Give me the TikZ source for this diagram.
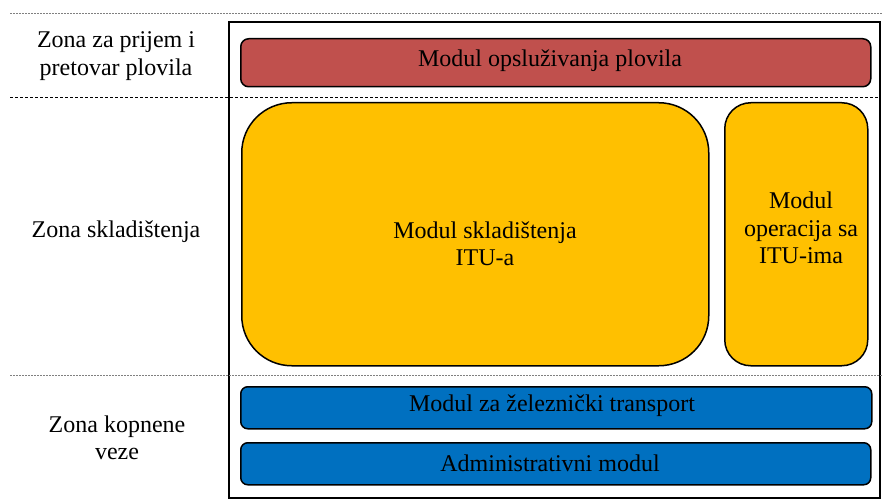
\documentclass[tikz,border=0pt]{standalone}
\usepackage{fontspec}
\setmainfont{Liberation Serif}
\definecolor{modred}{HTML}{C0504D}
\definecolor{modyellow}{HTML}{FFC000}
\definecolor{modblue}{HTML}{0070C0}
\begin{document}
\begin{tikzpicture}[x=1pt,y=-1pt,
  modbox/.style={draw=black, line width=1.5pt, inner sep=0pt, anchor=north west},
  modtext/.style={align=center, font=\fontsize{24}{27.5}\selectfont, inner sep=0pt},
  zonetext/.style={align=center, font=\fontsize{24}{27.5}\selectfont},
  sepdot/.style={draw=gray, line width=1pt, dash pattern=on 1.5pt off 1.5pt},
  sepdash/.style={draw=black, line width=0.8pt, dash pattern=on 3pt off 2pt}]
\useasboundingbox (0,0) rectangle (882,502);
% outer frame
\node[draw=black, line width=1.8pt, minimum width=651pt, minimum height=476pt, inner sep=0pt, anchor=north west] (frame) at (228,21) {};
% separators
\coordinate (s1l) at (10,14); \coordinate (s1r) at (882,14);
\coordinate (s2l) at (10,97); \coordinate (s2r) at (880,97);
\coordinate (s3l) at (10,375); \coordinate (s3r) at (882,375);
\draw[sepdot] (s1l) -- (s1r);
\draw[sepdash] (s2l) -- (s2r);
\draw[sepdot] (s3l) -- (s3r);
% modules
\node[modbox, fill=modred, rounded corners=8pt, minimum width=630pt, minimum height=48pt] (red) at (240,38) {};
\node[modbox, fill=modyellow, rounded corners=50pt, minimum width=467pt, minimum height=263pt] (big) at (241,102) {};
\node[modbox, fill=modyellow, rounded corners=26pt, minimum width=143pt, minimum height=263pt] (small) at (724,102) {};
\node[modbox, fill=modblue, rounded corners=7pt, minimum width=631pt, minimum height=42pt] (rail) at (240,386) {};
\node[modbox, fill=modblue, rounded corners=7pt, minimum width=630pt, minimum height=42pt] (admin) at (240,442) {};
% module texts
\node[modtext] (redt) at (550,61) {Modul opsluživanja plovila};
\node[modtext] (bigt) at (485,244) {Modul skladištenja\\ITU-a};
\node[modtext] (smallt) at (801,228) {Modul\\operacija sa\\ITU-ima};
\node[modtext] (railt) at (552,406) {Modul za železnički transport};
\node[modtext] (admint) at (550,463) {Administrativni modul};
% zone labels
\node[zonetext] (z1) at (116,56) {Zona za prijem i\\pretovar plovila};
\node[zonetext] (z2) at (116,232) {Zona skladištenja};
\node[zonetext] (z3) at (117,438) {Zona kopnene\\veze};
\end{tikzpicture}
\end{document}
